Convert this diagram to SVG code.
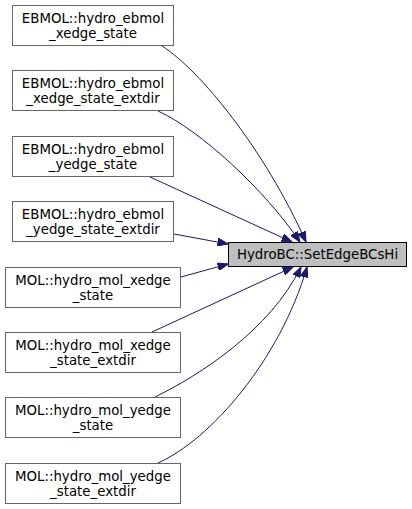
<svg xmlns="http://www.w3.org/2000/svg" width="412" height="509" viewBox="0 0 412 509">
<style>
.n rect{fill:#fff;stroke:#666;stroke-width:1}
.cur rect{fill:#bfbfbf;stroke:#000;stroke-width:1}
text{font-family:"DejaVu Sans","Liberation Sans",sans-serif;font-size:13.33px;fill:#000;text-anchor:middle}
.e path{fill:none;stroke:#191970;stroke-width:1}
</style>
<defs>
<marker id="ah" markerUnits="userSpaceOnUse" markerWidth="11" markerHeight="8" refX="10.5" refY="4" orient="auto">
<path d="M0,0 L10.5,4 L0,8 z" fill="#191970" stroke="#191970"/>
</marker>
</defs>
<g id="target" class="n cur"><rect x="228.5" y="242.5" width="178" height="24"/><text x="317.5" y="259">HydroBC::SetEdgeBCsHi</text></g>
<g id="n1" class="n"><rect x="12.5" y="5.5" width="161" height="40"/><text x="93" y="23">EBMOL::hydro_ebmol</text><text x="93" y="38">_xedge_state</text></g>
<g id="n2" class="n"><rect x="12.5" y="70.5" width="161" height="40"/><text x="93" y="88">EBMOL::hydro_ebmol</text><text x="93" y="103">_xedge_state_extdir</text></g>
<g id="n3" class="n"><rect x="12.5" y="136.5" width="161" height="40"/><text x="93" y="154">EBMOL::hydro_ebmol</text><text x="93" y="169">_yedge_state</text></g>
<g id="n4" class="n"><rect x="12.5" y="201.5" width="161" height="40"/><text x="93" y="219">EBMOL::hydro_ebmol</text><text x="93" y="234">_yedge_state_extdir</text></g>
<g id="n5" class="n"><rect x="5.5" y="267.5" width="175" height="40"/><text x="93" y="285">MOL::hydro_mol_xedge</text><text x="93" y="300">_state</text></g>
<g id="n6" class="n"><rect x="5.5" y="332.5" width="175" height="40"/><text x="93" y="350">MOL::hydro_mol_xedge</text><text x="93" y="365">_state_extdir</text></g>
<g id="n7" class="n"><rect x="5.5" y="397.5" width="175" height="40"/><text x="93" y="415">MOL::hydro_mol_yedge</text><text x="93" y="430">_state</text></g>
<g id="n8" class="n"><rect x="5.5" y="463.5" width="175" height="40"/><text x="93" y="481">MOL::hydro_mol_yedge</text><text x="93" y="496">_state_extdir</text></g>
<g id="edges" class="e">
<path d="M162,46 C200,70 265,150 306,242" marker-end="url(#ah)"/>
<path d="M158,111 C200,130 265,190 300,242" marker-end="url(#ah)"/>
<path d="M150,177 L292,242" marker-end="url(#ah)"/>
<path d="M174,234 L228,244" marker-end="url(#ah)"/>
<path d="M181,277 L228,264" marker-end="url(#ah)"/>
<path d="M152,332 L293,267" marker-end="url(#ah)"/>
<path d="M155,397 C200,375 270,330 301,267" marker-end="url(#ah)"/>
<path d="M158,463 C210,440 280,360 307,267" marker-end="url(#ah)"/>
</g>
</svg>
